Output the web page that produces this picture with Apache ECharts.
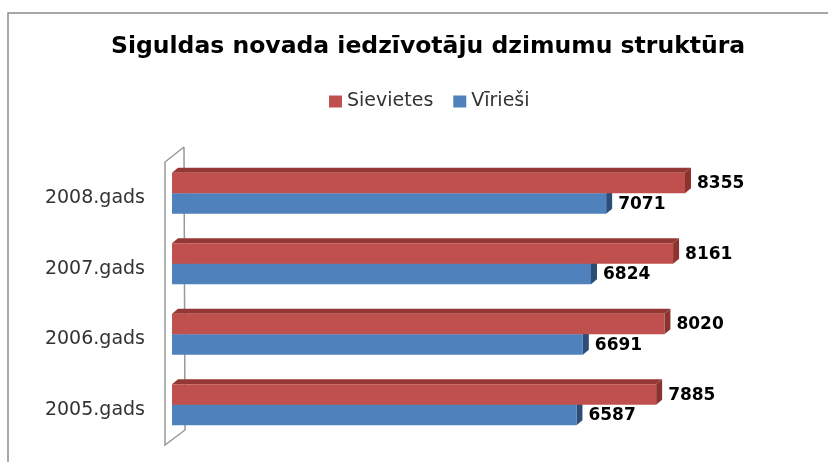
<!DOCTYPE html>
<html>
<head>
<meta charset="utf-8">
<script src="https://cdn.jsdelivr.net/npm/echarts@6/dist/echarts.min.js"></script>
<style>
  html, body { margin: 0; padding: 0; background: #fff; }
  #chart { width: 828px; height: 462px; }
</style>
</head>
<body>
<div id="chart"></div>
<script>
const titleText = 'Siguldas novada iedzīvotāju dzimumu struktūra'
const categories = ['2005.gads', '2006.gads', '2007.gads', '2008.gads']
const females = [7885, 8020, 8161, 8355]
const males = [6587, 6691, 6824, 7071]
const seriesNames = ['Sievietes', 'Vīrieši']

const gridLeft = 172
const gridTop = 158
const gridBottom = 22
const gridBottomY = 462 - gridBottom
const depthX = 6
const depthY = 5

// 3D-ish bar: front face + top face + end face
const makeRender = (front, top, side, upper) => (params, api) => {
  const v = api.value(0)
  const c = api.value(1)
  const end = api.coord([v, c])
  const start = api.coord([0, c])
  const h = api.size([0, 1])[1] * 0.29
  const y0 = upper ? end[1] - h : end[1]
  return {
    type: 'group',
    children: [
      {
        type: 'polygon',
        shape: { points: [[start[0], y0], [start[0] + depthX, y0 - depthY], [end[0] + depthX, y0 - depthY], [end[0], y0]] },
        style: { fill: top }
      },
      {
        type: 'polygon',
        shape: { points: [[end[0], y0], [end[0] + depthX, y0 - depthY], [end[0] + depthX, y0 + h - depthY], [end[0], y0 + h]] },
        style: { fill: side }
      },
      {
        type: 'rect',
        shape: { x: start[0], y: y0, width: end[0] - start[0], height: h },
        style: { fill: front }
      },
      {
        type: 'text',
        x: end[0] + depthX + 6,
        y: y0 + h / 2 + 1,
        style: {
          text: String(v),
          fill: '#000',
          font: 'bold 17px "DejaVu Sans"',
          verticalAlign: 'middle',
          align: 'left'
        }
      }
    ]
  }
}

const chart = echarts.init(document.getElementById('chart'))

const option = {
  backgroundColor: '#fff',
  animation: false,
  title: {
    text: titleText,
    left: 106,
    top: 30,
    textStyle: {
      fontFamily: 'DejaVu Sans',
      fontWeight: 'bold',
      fontSize: 23.5,
      color: '#000'
    }
  },
  legend: {
    data: [
      { name: seriesNames[0], itemStyle: { color: '#c0504d' } },
      { name: seriesNames[1], itemStyle: { color: '#4f81bd' } }
    ],
    left: 324,
    top: 87,
    icon: 'rect',
    itemWidth: 13,
    itemHeight: 12,
    itemGap: 20,
    textStyle: {
      fontFamily: 'DejaVu Sans',
      fontSize: 19,
      color: '#333'
    }
  },
  grid: {
    left: gridLeft,
    right: 42,
    top: gridTop,
    bottom: gridBottom
  },
  xAxis: {
    type: 'value',
    min: 0,
    max: 10000,
    show: false
  },
  yAxis: {
    type: 'category',
    data: categories,
    axisLine: { show: false },
    axisTick: { show: false },
    axisLabel: {
      margin: 27,
      fontFamily: 'DejaVu Sans',
      fontSize: 19,
      color: '#333',
      verticalAlign: 'top',
      lineHeight: 10
    }
  },
  graphic: [
    {
      type: 'polyline',
      shape: { points: [[8, 470], [8, 13], [840, 13]] },
      style: { stroke: '#8a8a8a', lineWidth: 1.5, fill: null },
      z: 0
    },
    {
      type: 'polyline',
      shape: {
        points: [
          [gridLeft + 12, gridTop - 11],
          [gridLeft - 7, gridTop + 4],
          [gridLeft - 7, gridBottomY + 5],
          [gridLeft + 13, gridBottomY - 10],
          [gridLeft + 12, gridTop - 11]
        ]
      },
      style: { stroke: '#999', lineWidth: 1.5, fill: null },
      z: 0
    }
  ],
  series: [
    {
      name: seriesNames[1],
      type: 'custom',
      renderItem: makeRender('#4f81bd', '#3a6496', '#2c4d75', false),
      data: males.map((v, i) => [v, i]),
      encode: { x: 0, y: 1 },
      z: 2
    },
    {
      name: seriesNames[0],
      type: 'custom',
      renderItem: makeRender('#c0504d', '#953735', '#8c3330', true),
      data: females.map((v, i) => [v, i]),
      encode: { x: 0, y: 1 },
      z: 3
    }
  ]
}

chart.setOption(option)
</script>
</body>
</html>
